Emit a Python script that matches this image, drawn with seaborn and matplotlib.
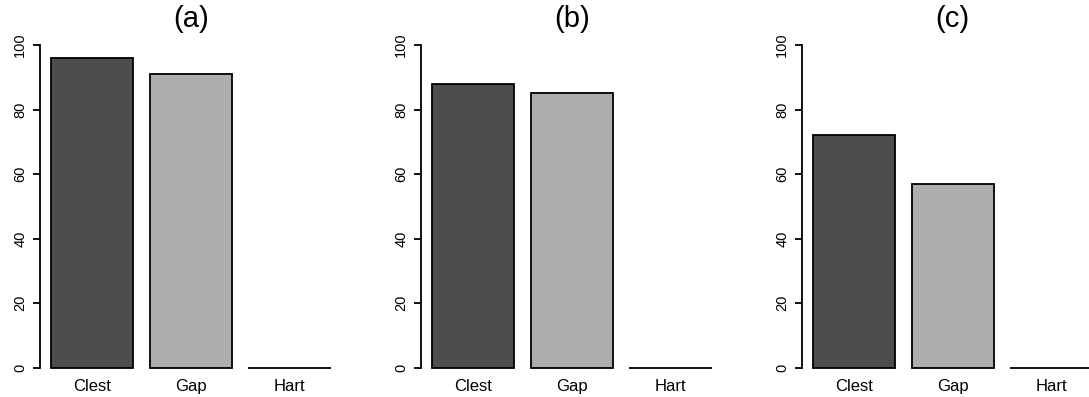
import matplotlib
matplotlib.use("Agg")
import matplotlib.pyplot as plt
import seaborn as sns
import pandas as pd

sns.set_style("white")
plt.rcParams['font.family'] = ['Liberation Sans', 'DejaVu Sans']
plt.rcParams['text.color'] = 'black'
plt.rcParams['xtick.color'] = 'black'
plt.rcParams['ytick.color'] = 'black'

# Data
categories = ["Clest", "Gap", "Hart"]
panel_titles = ["(a)", "(b)", "(c)"]
values_a = [96, 91, 0]
values_b = [88, 85, 0]
values_c = [72, 57, 0]
y_ticks = [0, 20, 40, 60, 80, 100]
bar_colors = ["#4D4D4D", "#AEAEAE", "#E6E6E6"]

W, H = 1089, 397
fig = plt.figure(figsize=(W / 100, H / 100), dpi=100)

panel_left_px = [39.8, 420.8, 801.8]
axes_w_px = 301.9
axes_bottom_px = 16.4
axes_h_px = 348.5

for left_px, title, vals in zip(panel_left_px, panel_titles, [values_a, values_b, values_c]):
    ax = fig.add_axes([left_px / W, axes_bottom_px / H, axes_w_px / W, axes_h_px / H])
    df = pd.DataFrame({"method": categories, "value": vals})
    sns.barplot(data=df, x="method", y="value", hue="method",
                palette=bar_colors, legend=False, width=1 / 1.2,
                edgecolor="black", linewidth=1.3, saturation=1, ax=ax)
    ax.set_xlim(-0.53, 2.53)
    ax.set_ylim(-4, 104)
    ax.set_yticks(y_ticks)
    ax.set_yticklabels([str(t) for t in y_ticks], rotation=90, va="center")
    ax.tick_params(axis="y", length=5, width=1.3, pad=4, labelsize=10.5,
                   color="black", labelcolor="black", left=True)
    ax.tick_params(axis="x", length=0, pad=-1, labelsize=12, labelcolor="black")
    for s in ["top", "right", "bottom"]:
        ax.spines[s].set_visible(False)
    ax.spines["left"].set_bounds(0, 100)
    ax.spines["left"].set_color("black")
    ax.spines["left"].set_linewidth(1.3)
    ax.set_xlabel("")
    ax.set_ylabel("")
    ax.set_title(title, fontsize=21, pad=4, color="black")
    ax.set_facecolor("white")

fig.savefig("out.png", dpi=100, facecolor="white")
